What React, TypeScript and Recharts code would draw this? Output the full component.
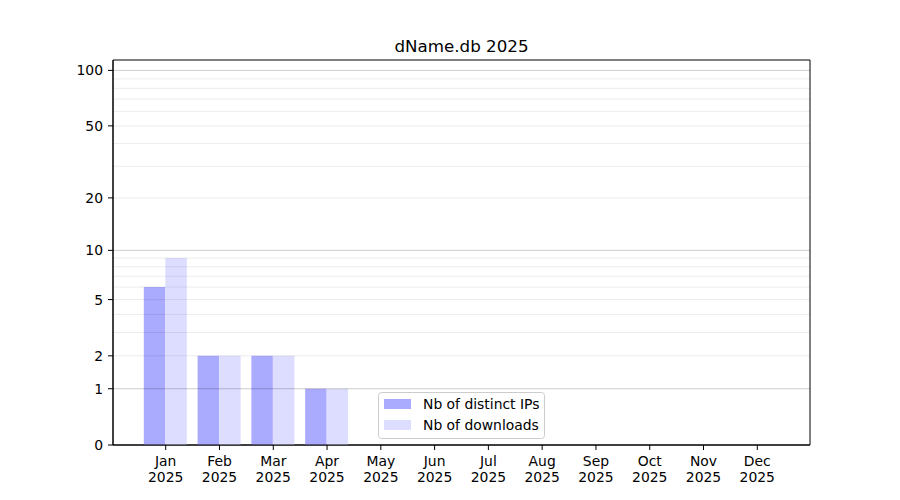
import React from 'react';
import { ComposedChart, Bar, XAxis, YAxis, ReferenceLine, ReferenceArea } from 'recharts';

const months = ['Jan', 'Feb', 'Mar', 'Apr', 'May', 'Jun', 'Jul', 'Aug', 'Sep', 'Oct', 'Nov', 'Dec'];
const yearLabel = '2025';
const distinctIPs = [6, 2, 2, 1, 0, 0, 0, 0, 0, 0, 0, 0];
const downloads = [9, 2, 2, 1, 0, 0, 0, 0, 0, 0, 0, 0];
const yTickValues = [0, 1, 2, 5, 10, 20, 50, 100];
const majorGrid = [1, 10, 100];
const minorGrid = [2, 3, 4, 5, 6, 7, 8, 9, 20, 30, 40, 50, 60, 70, 80, 90];
const title = 'dName.db 2025';
const seriesNames = ['Nb of distinct IPs', 'Nb of downloads'];

const FONT = '"DejaVu Sans", sans-serif';
const COLOR_IPS = '#aaaaff';
const COLOR_DL = '#ddddff';

// log10(v + 1) transform (matches the reference's y scale)
const f = (v: number) => Math.log10(v + 1);
const inv = (t: number) => Math.round(Math.pow(10, t) - 1);

const data = months.map((m, i) => ({
  x: i + 1,
  label: m,
  ips: f(distinctIPs[i]),
  dl: f(downloads[i]),
}));

const XTick = (props: any) => {
  const { x, y, payload } = props;
  const label = months[payload.value - 1] ?? '';
  return (
    <g>
      <text x={x} y={y + 16} textAnchor="middle" fontFamily={FONT} fontSize={13.9} fill="#000">
        {label}
      </text>
      <text x={x} y={y + 32} textAnchor="middle" fontFamily={FONT} fontSize={13.9} fill="#000">
        {yearLabel}
      </text>
    </g>
  );
};

const Title = () => (
  <text x={461.5} y={52.3} textAnchor="middle" fontFamily={FONT} fontSize={16.7} fill="#000">
    {title}
  </text>
);

const LegendBox = () => (
  <g>
    <rect x={378.5} y={392.5} width={166} height={46} rx={3} ry={3} fill="#ffffff" fillOpacity={0.8} stroke="#cccccc" />
    <rect x={384} y={399} width={27} height={10} fill={COLOR_IPS} />
    <rect x={384} y={420} width={27} height={10} fill={COLOR_DL} />
    <text x={423} y={409} fontFamily={FONT} fontSize={13.9} fill="#000">{seriesNames[0]}</text>
    <text x={423} y={430} fontFamily={FONT} fontSize={13.9} fill="#000">{seriesNames[1]}</text>
  </g>
);

export default function App() {
  const yDomain: [number, number] = [0, 2.06];
  const xDomain: [number, number] = [0.02, 12.98];
  return (
    <div style={{ position: 'absolute', left: 0, top: 0, width: 900, height: 500, background: '#fff' }}>
      <ComposedChart
        width={900}
        height={500}
        data={data}
        margin={{ top: 60, right: 90, bottom: 15, left: 73 }}
        barGap={0}
        barSize={21.5}
      >
        {minorGrid.map((v) => (
          <ReferenceLine key={'mi' + v} y={f(v)} stroke="#000" strokeOpacity={0.08} strokeWidth={1} />
        ))}
        <XAxis
          type="number"
          dataKey="x"
          domain={xDomain}
          ticks={months.map((_, i) => i + 1)}
          allowDataOverflow
          tick={<XTick />}
          tickSize={5}
          tickMargin={0}
          tickLine={{ stroke: '#000' }}
          axisLine={{ stroke: '#000' }}
          height={40}
          interval={0}
        />
        <YAxis
          type="number"
          domain={yDomain}
          ticks={yTickValues.map(f)}
          allowDataOverflow
          tickFormatter={(v: number) => String(inv(v))}
          tick={{ fontFamily: FONT, fontSize: 13.9, fill: '#000' }}
          tickSize={5}
          tickMargin={5}
          tickLine={{ stroke: '#000' }}
          axisLine={{ stroke: '#000' }}
          width={40}
          interval={0}
        />
        <Bar dataKey="ips" name={seriesNames[0]} fill={COLOR_IPS} isAnimationActive={false} />
        <Bar dataKey="dl" name={seriesNames[1]} fill={COLOR_DL} isAnimationActive={false} />
        {majorGrid.map((v) => (
          <ReferenceLine key={'ma' + v} y={f(v)} stroke="#000" strokeOpacity={0.2} strokeWidth={1} />
        ))}
        <ReferenceArea
          x1={xDomain[0]}
          x2={xDomain[1]}
          y1={yDomain[0]}
          y2={yDomain[1]}
          fill="none"
          stroke="#000"
          strokeWidth={1}
          ifOverflow="visible"
        />
        <Title />
        <LegendBox />
      </ComposedChart>
    </div>
  );
}
